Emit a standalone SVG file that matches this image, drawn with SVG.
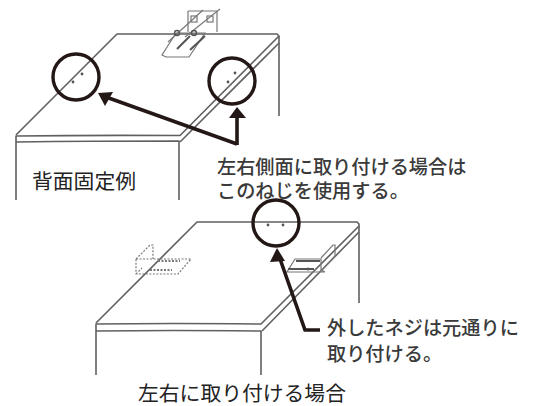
<svg xmlns="http://www.w3.org/2000/svg" width="536" height="406" viewBox="0 0 536 406">
<style>
.e{fill:none;stroke:#606060;stroke-width:1.600;stroke-linejoin:round}
.t{fill:none;stroke:#777;stroke-width:1.200}
.d{fill:none;stroke:#777;stroke-width:1.200;stroke-dasharray:2 1.500}
.c{fill:none;stroke:#231815;stroke-width:3.400}
.a{fill:none;stroke:#231815;stroke-width:3.600;stroke-linejoin:miter}
.h{fill:#231815}
.s{fill:#555}
.k{fill:none;stroke:#555;stroke-width:2}
text{font-family:"Noto Sans CJK JP","Liberation Sans",sans-serif}
.l{fill:#3a3a3a;font-size:19.2px;font-weight:500}
.b{fill:#222;font-size:20.8px}
</style>
<rect width="536" height="406" fill="#fff"/>
<g id="cabinet-top">
<path class="e" d="M16 135L117 34H277L279 36V116"/>
<path class="e" d="M16 200V136Q90 135 180 135.500L279 36"/>
<path class="e" d="M16 142Q90 141 179 141V200"/>
<path class="e" d="M180 142L279 43"/>
</g>
<g id="bracket-top">
<path class="t" d="M188 11H217V32M188 11V32"/>
<path class="t" d="M176 33H205L189 57L166 57L162 55Z"/>
<path class="k" d="M177 49L190 36M190 50L205 36"/>
<path class="t" d="M168 42L203 10M185 37L220 9"/>
<circle class="k" style="stroke-width:1.400" cx="177" cy="33" r="2.500"/><circle class="k" style="stroke-width:1.400" cx="194" cy="33" r="2.500"/>
<rect class="t" x="191" y="16" width="6" height="6"/><rect class="t" x="207" y="16" width="6" height="6"/>
</g>
<g id="callout-left">
<circle class="c" cx="76" cy="77" r="23"/>
<circle class="s" cx="82" cy="74" r="1.400"/><circle class="s" cx="73" cy="82" r="1.400"/>
</g>
<g id="callout-right">
<circle class="c" cx="232" cy="81" r="23"/>
<circle class="s" cx="235" cy="73" r="1.400"/><circle class="s" cx="228" cy="82" r="1.400"/>
</g>
<g id="label-back"><text class="b" x="32" y="189">背面固定例</text></g>
<g id="label-side">
<text class="l" x="217" y="174">左右側面に取り付ける場合は</text>
<text class="l" x="217" y="198">このねじを使用する。</text>
</g>
<g id="cabinet-bottom">
<path class="e" d="M96 323L197 222H357L359 224V303"/>
<path class="e" d="M96 375V324Q170 323 261 324L359 226"/>
<path class="e" d="M96 331Q170 330 261 331V375"/>
<path class="e" d="M262 331L359 232"/>
</g>
<g id="bracket-dashed">
<path class="d" d="M136 259H191L178 274H136ZM136 259L150 245H153V259M136 274L142 268"/>
<path class="d" d="M158 261H180M150 270H172" style="stroke-width:2"/>
</g>
<g id="bracket-solid">
<path class="t" d="M295 259H321V270L325 272H287ZM321 258L333 245H335V256L320 272"/>
<path class="k" d="M296 261H320M288 269H314"/>
<circle class="s" cx="308" cy="269" r="1.500"/>
</g>
<g id="callout-bottom">
<circle class="c" cx="276" cy="223" r="23"/>
<circle class="s" cx="268" cy="225" r="1.400"/><circle class="s" cx="283" cy="225" r="1.400"/>
</g>
<g id="connectors">
<path class="a" d="M237 144L106 97"/>
<path class="a" d="M237 145V114"/>
<path class="h" d="M98 93L113 92L105 106Z"/>
<path class="h" d="M237 107L246 118H229Z"/>
<path class="a" d="M320 330H305L279 256"/>
<path class="h" d="M277 248L285 261L270 262Z"/>
</g>
<g id="label-screw">
<text class="l" x="327" y="335">外したネジは元通りに</text>
<text class="l" x="327" y="361">取り付ける。</text>
</g>
<g id="label-sides"><text class="b" x="138" y="401">左右に取り付ける場合</text></g>
</svg>
